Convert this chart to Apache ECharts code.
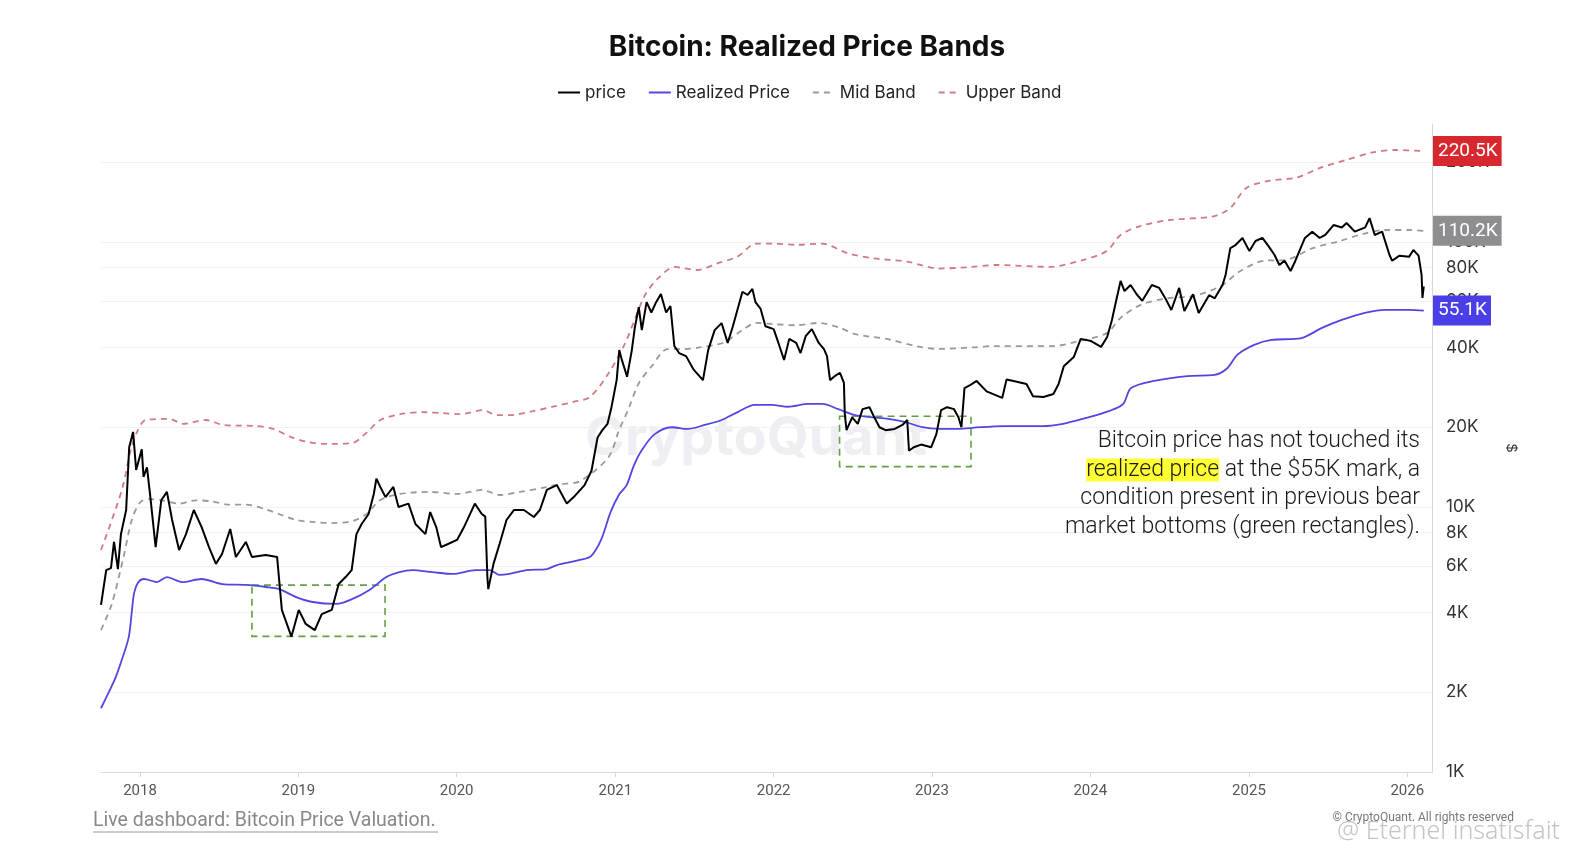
<!DOCTYPE html>
<html>
<head>
<meta charset="utf-8">
<title>Bitcoin: Realized Price Bands</title>
<script src="https://cdn.jsdelivr.net/npm/echarts@6.0.0/dist/echarts.min.js"></script>
<style>
	html, body { margin: 0; padding: 0; background: #fff; }
	#chart { width: 1578px; height: 864px; }
</style>
</head>
<body>
<div id="chart"></div>
<script>
// daily BTC close (USD)
var price = [
	['2017-10-03', 4270], ['2017-10-15', 5780], ['2017-10-26', 5880], ['2017-11-02', 7380],
	['2017-11-11', 5830], ['2017-11-18', 7900], ['2017-11-30', 9740], ['2017-12-07', 16800],
	['2017-12-16', 19200], ['2017-12-23', 13800], ['2018-01-05', 16500], ['2018-01-09', 13000],
	['2018-01-17', 14100], ['2018-01-24', 11200], ['2018-02-06', 7060], ['2018-02-19', 10600],
	['2018-03-04', 11400], ['2018-03-16', 8930], ['2018-04-01', 6880], ['2018-04-17', 7900],
	['2018-05-05', 9740], ['2018-05-23', 8400], ['2018-06-09', 7060], ['2018-06-25', 6100],
	['2018-07-09', 6650], ['2018-07-28', 8260], ['2018-08-10', 6480], ['2018-09-02', 7380],
	['2018-09-16', 6480], ['2018-10-18', 6590], ['2018-11-13', 6480], ['2018-11-24', 4090],
	['2018-12-16', 3240], ['2019-01-02', 4090], ['2019-01-18', 3620], ['2019-02-08', 3430],
	['2019-02-24', 3940], ['2019-03-19', 4090], ['2019-04-04', 5120], ['2019-04-20', 5440],
	['2019-05-04', 5780], ['2019-05-15', 7900], ['2019-05-27', 8630], ['2019-06-12', 9410],
	['2019-06-24', 11200], ['2019-06-30', 12800], ['2019-07-09', 11900], ['2019-07-21', 10900],
	['2019-08-08', 11900], ['2019-08-20', 10000], ['2019-09-12', 10300], ['2019-09-28', 8630],
	['2019-10-21', 7900], ['2019-11-01', 9570], ['2019-11-15', 8400], ['2019-11-26', 7060],
	['2019-12-12', 7250], ['2020-01-02', 7510], ['2020-01-18', 8400], ['2020-02-12', 10300],
	['2020-02-28', 9410], ['2020-03-07', 9200], ['2020-03-12', 5400], ['2020-03-14', 4900],
	['2020-03-26', 6100], ['2020-04-09', 7250], ['2020-04-25', 8930], ['2020-05-12', 9740],
	['2020-06-04', 9740], ['2020-06-27', 9170], ['2020-07-11', 9740], ['2020-07-27', 11600],
	['2020-08-19', 12100], ['2020-09-11', 10300], ['2020-09-27', 10900], ['2020-10-22', 12100],
	['2020-11-07', 13700], ['2020-11-21', 18300], ['2020-12-02', 19500], ['2020-12-14', 20600],
	['2020-12-23', 23800], ['2021-01-04', 30100], ['2021-01-10', 39100], ['2021-01-16', 35900],
	['2021-01-28', 31000], ['2021-02-08', 39100], ['2021-02-15', 47700], ['2021-02-24', 56800],
	['2021-03-03', 46500], ['2021-03-14', 59300], ['2021-03-25', 54200], ['2021-04-05', 59300],
	['2021-04-16', 63600], ['2021-04-28', 54200], ['2021-05-08', 57300], ['2021-05-17', 40500],
	['2021-05-28', 38100], ['2021-06-13', 37100], ['2021-07-01', 32900], ['2021-07-22', 30100],
	['2021-08-03', 39100], ['2021-08-18', 46500], ['2021-09-03', 49400], ['2021-09-17', 41600],
	['2021-09-29', 48100], ['2021-10-10', 55900], ['2021-10-21', 64900], ['2021-11-02', 63100],
	['2021-11-13', 66500], ['2021-11-20', 59300], ['2021-12-02', 55900], ['2021-12-13', 48100],
	['2022-01-01', 46900], ['2022-01-12', 41600], ['2022-01-25', 35900], ['2022-02-06', 43100],
	['2022-02-22', 41600], ['2022-03-04', 38100], ['2022-03-16', 44200], ['2022-03-30', 46900],
	['2022-04-15', 41600], ['2022-04-27', 39400], ['2022-05-04', 37100], ['2022-05-11', 30100],
	['2022-05-22', 31200], ['2022-06-03', 32100], ['2022-06-12', 29400], ['2022-06-14', 22400],
	['2022-06-18', 19500], ['2022-07-01', 21800], ['2022-07-14', 20600], ['2022-07-25', 23400],
	['2022-08-10', 23800], ['2022-08-21', 21800], ['2022-09-02', 20000], ['2022-09-16', 19500],
	['2022-10-07', 19700], ['2022-10-25', 20400], ['2022-11-05', 21300], ['2022-11-09', 16300],
	['2022-11-20', 16800], ['2022-12-07', 17200], ['2022-12-30', 16800], ['2023-01-11', 18800],
	['2023-01-22', 23200], ['2023-02-05', 23800], ['2023-02-21', 23400], ['2023-03-03', 21800],
	['2023-03-10', 20000], ['2023-03-17', 28100], ['2023-03-31', 28900], ['2023-04-14', 29900],
	['2023-05-07', 27300], ['2023-06-12', 25800], ['2023-06-22', 30300], ['2023-07-08', 29900],
	['2023-08-07', 29100], ['2023-08-22', 26200], ['2023-09-15', 26000], ['2023-10-08', 26700],
	['2023-10-20', 29100], ['2023-11-01', 34000], ['2023-11-24', 36800], ['2023-12-10', 43100],
	['2024-01-03', 42300], ['2024-01-26', 40200], ['2024-02-09', 43800], ['2024-02-20', 50800],
	['2024-03-02', 61300], ['2024-03-11', 71300], ['2024-03-20', 65300], ['2024-04-03', 68800],
	['2024-04-17', 63500], ['2024-04-30', 60000], ['2024-05-22', 68800], ['2024-06-08', 67100],
	['2024-06-24', 60500], ['2024-07-06', 55400], ['2024-07-24', 67100], ['2024-08-05', 54900],
	['2024-08-25', 63500], ['2024-09-07', 54000], ['2024-10-01', 63000], ['2024-10-14', 61300],
	['2024-11-01', 68800], ['2024-11-08', 75100], ['2024-11-19', 94800], ['2024-12-01', 97400],
	['2024-12-17', 103600], ['2025-01-02', 92400], ['2025-01-16', 100900], ['2025-02-01', 103600],
	['2025-02-15', 96500], ['2025-03-01', 89300], ['2025-03-12', 81900], ['2025-03-24', 85000],
	['2025-04-07', 77700], ['2025-04-18', 85000], ['2025-05-10', 103600], ['2025-05-27', 109400],
	['2025-06-13', 103600], ['2025-06-26', 106300], ['2025-07-15', 115900], ['2025-08-03', 113500],
	['2025-08-14', 118000], ['2025-09-02', 109400], ['2025-09-26', 113500], ['2025-10-06', 123100],
	['2025-10-18', 106300], ['2025-11-04', 109400], ['2025-11-21', 89300], ['2025-11-27', 85000],
	['2025-12-14', 88800], ['2026-01-05', 87900], ['2026-01-15', 93300], ['2026-01-27', 88800],
	['2026-02-03', 75100], ['2026-02-05', 61500], ['2026-02-08', 68000]
];

var realized = [
	['2017-10-03', 1740], ['2017-10-19', 1970], ['2017-11-06', 2280], ['2017-11-20', 2650],
	['2017-12-06', 3230], ['2017-12-13', 4020], ['2017-12-18', 4700], ['2017-12-27', 5170],
	['2018-01-10', 5350], ['2018-02-09', 5210], ['2018-03-04', 5440], ['2018-04-08', 5210],
	['2018-05-23', 5350], ['2018-07-09', 5120], ['2018-09-02', 5080], ['2018-10-18', 4990],
	['2018-11-18', 4900], ['2018-12-27', 4570], ['2019-02-03', 4380], ['2019-03-30', 4310],
	['2019-05-06', 4500], ['2019-06-14', 4860], ['2019-07-23', 5440], ['2019-08-22', 5680],
	['2019-09-21', 5780], ['2019-11-06', 5680], ['2019-12-23', 5590], ['2020-02-14', 5780],
	['2020-03-17', 5780], ['2020-04-09', 5540], ['2020-05-02', 5590], ['2020-06-11', 5780],
	['2020-07-27', 5830], ['2020-08-19', 6040], ['2020-10-11', 6310], ['2020-11-06', 6530],
	['2020-11-29', 7510], ['2020-12-21', 9570], ['2021-01-09', 11100], ['2021-01-27', 12100],
	['2021-02-13', 14400], ['2021-03-03', 16400], ['2021-04-01', 18800], ['2021-05-11', 20000],
	['2021-06-17', 19700], ['2021-07-26', 20400], ['2021-09-03', 21300], ['2021-10-10', 22800],
	['2021-11-18', 24300], ['2021-12-28', 24300], ['2022-02-03', 23900], ['2022-03-22', 24500],
	['2022-04-23', 24500], ['2022-05-30', 23400], ['2022-07-08', 22200], ['2022-08-17', 21800],
	['2022-09-22', 21500], ['2022-11-01', 20900], ['2022-12-10', 20000], ['2023-01-16', 19700],
	['2023-02-24', 19700], ['2023-04-05', 19900], ['2023-06-15', 20200], ['2023-09-13', 20200],
	['2023-10-30', 20600], ['2023-12-15', 21500], ['2024-02-13', 23000], ['2024-03-17', 24500],
	['2024-04-04', 28100], ['2024-05-27', 29900], ['2024-08-12', 31200], ['2024-10-13', 31500],
	['2024-11-12', 33400], ['2024-12-05', 37500], ['2025-01-13', 40900], ['2025-02-22', 42700],
	['2025-05-02', 43400], ['2025-06-17', 47300], ['2025-08-03', 50800], ['2025-09-25', 54000],
	['2025-11-12', 55400], ['2026-01-05', 55400], ['2026-02-08', 55100]
];

var midBand = [
	['2017-10-03', 3430], ['2017-10-28', 4310], ['2017-11-24', 6480], ['2017-12-13', 8930],
	['2018-01-01', 10400], ['2018-01-21', 10700], ['2018-02-20', 10600], ['2018-04-01', 10300],
	['2018-05-09', 10600], ['2018-06-16', 10500], ['2018-07-25', 10200], ['2018-09-02', 10200],
	['2018-10-18', 9800], ['2018-11-18', 9400], ['2018-12-27', 8930], ['2019-02-03', 8780],
	['2019-03-21', 8700], ['2019-05-06', 8850], ['2019-06-07', 9400], ['2019-07-08', 10600],
	['2019-08-22', 11200], ['2019-10-31', 11400], ['2020-01-01', 11200], ['2020-03-01', 11600],
	['2020-04-09', 11100], ['2020-05-26', 11400], ['2020-07-27', 11900], ['2020-08-26', 12200],
	['2020-10-11', 12500], ['2020-12-16', 15400], ['2021-01-09', 19400], ['2021-02-01', 23600],
	['2021-02-24', 29300], ['2021-03-26', 34000], ['2021-05-01', 39400], ['2021-06-08', 39400],
	['2021-07-14', 40000], ['2021-09-07', 41700], ['2021-10-23', 46800], ['2021-11-22', 49500],
	['2022-01-01', 49000], ['2022-02-22', 48500], ['2022-04-15', 49500], ['2022-06-01', 47600],
	['2022-07-08', 44900], ['2022-09-24', 42900], ['2022-11-24', 40500], ['2023-01-16', 39500],
	['2023-04-03', 40000], ['2023-05-26', 40500], ['2023-10-08', 40500], ['2023-12-07', 42300],
	['2024-02-08', 45300], ['2024-03-11', 51700], ['2024-04-25', 57800], ['2024-06-26', 61300],
	['2024-08-26', 62500], ['2024-10-28', 68200], ['2024-12-12', 77700], ['2025-02-05', 85000],
	['2025-03-26', 85500], ['2025-05-28', 94800], ['2025-07-30', 100900], ['2025-09-20', 107200],
	['2025-11-12', 111000], ['2026-01-05', 111000], ['2026-02-08', 110200]
];

var upperBand = [
	['2017-10-03', 6880], ['2017-10-28', 8930], ['2017-11-22', 11900], ['2017-12-11', 16500],
	['2017-12-27', 19500], ['2018-01-14', 21300], ['2018-03-10', 21500], ['2018-04-10', 20600],
	['2018-06-02', 21300], ['2018-07-11', 20400], ['2018-09-26', 20200], ['2018-11-04', 19700],
	['2018-12-14', 18400], ['2019-01-22', 17600], ['2019-03-16', 17300], ['2019-05-08', 17500],
	['2019-06-09', 19200], ['2019-07-09', 21300], ['2019-08-24', 22400], ['2019-10-16', 22800],
	['2019-12-01', 22600], ['2020-01-09', 22400], ['2020-03-02', 23200], ['2020-04-03', 22200],
	['2020-05-03', 22200], ['2020-06-25', 23000], ['2020-08-10', 23900], ['2020-09-25', 24900],
	['2020-11-03', 26000], ['2020-12-16', 31900], ['2021-01-24', 41700], ['2021-03-10', 62900],
	['2021-04-10', 73000], ['2021-05-17', 80500], ['2021-07-08', 78400], ['2021-08-24', 83000],
	['2021-10-09', 88000], ['2021-11-22', 98600], ['2022-01-01', 98600], ['2022-02-22', 97600],
	['2022-04-22', 98600], ['2022-06-21', 90600], ['2022-08-21', 86700], ['2022-11-05', 84300],
	['2023-01-16', 79400], ['2023-04-03', 80500], ['2023-05-26', 81900], ['2023-09-30', 80600],
	['2023-12-15', 85500], ['2024-02-08', 92400], ['2024-03-11', 106300], ['2024-04-25', 114900],
	['2024-07-03', 121100], ['2024-10-11', 125000], ['2024-11-19', 134400], ['2024-12-26', 160000],
	['2025-02-19', 170500], ['2025-04-20', 174800], ['2025-06-13', 190000], ['2025-08-12', 203900],
	['2025-10-13', 217700], ['2025-12-05', 222400], ['2026-02-08', 220500]
];

var priceTicks = [1000, 2000, 4000, 6000, 8000, 10000, 20000, 40000, 60000, 80000, 100000, 200000];
// [from, to, low, high] of the green boxes
var bottomBoxes = [
	['2018-09-16', '2019-07-20', 3250, 5070],
	['2022-06-02', '2023-04-01', 14200, 22000]
];
var noteLines = [
	'Bitcoin price has not touched its',
	'{hl|realized price} at the $55K mark, a',
	'condition present in previous bear',
	'market bottoms (green rectangles).'
];

var xMin = echarts.time.parse('2017-10-03').getTime();
var xMax = echarts.time.parse('2026-02-27').getTime();
var yMin = 1000, yMax = 278800;

function kLabel(v) {
	return (v / 1000).toFixed(1) + 'K';
}

// badge at the right of the axis showing a series' last value
function lastBadge(data, bg) {
	return {
		silent: true,
		symbol: 'none',
		lineStyle: { color: 'rgba(0,0,0,0)', width: 1 },
		emphasis: { disabled: true },
		label: {
			show: true,
			position: 'end',
			distance: 1,
			formatter: function (p) { return kLabel(p.value); },
			color: '#fff',
			backgroundColor: bg,
			padding: [6, 4, 5, 5],
			fontSize: 19,
			fontFamily: 'Roboto'
		},
		data: [{ yAxis: data[data.length - 1][1] }]
	};
}

var boxData = bottomBoxes.map(function (b) {
	return [{ coord: [b[0], b[3]] }, { coord: [b[1], b[2]] }];
});

// the note, one right-aligned text per line
var noteText = noteLines.map(function (line, i) {
	return {
		type: 'text',
		right: 158,
		top: 430 + i * 28.5,
		z: 10,
		style: {
			text: line,
			fontFamily: 'Roboto',
			fontSize: 23,
			fontWeight: 300,
			fill: '#1a1a1a',
			rich: {
				hl: { backgroundColor: '#ffff33', fontFamily: 'Roboto', fontSize: 23, fontWeight: 300, fill: '#1a1a1a' }
			}
		}
	};
});

var chart = echarts.init(document.getElementById('chart'));
var logTicks = priceTicks.map(function (v) { return Math.log10(v); });

chart.setOption({
	animation: false,
	backgroundColor: '#fff',
	title: {
		text: 'Bitcoin: Realized Price Bands',
		left: 807,
		textAlign: 'center',
		top: 34,
		padding: 0,
		textStyle: { fontFamily: 'Inter', fontSize: 28, fontWeight: 'bold', color: '#111' }
	},
	legend: {
		left: 557,
		top: 84,
		padding: 0,
		itemWidth: 22,
		itemHeight: 12,
		itemGap: 22,
		itemStyle: { opacity: 0 },
		textStyle: { fontFamily: 'Inter', fontSize: 17, color: '#222' },
		data: ['price', 'Realized Price', 'Mid Band', 'Upper Band']
	},
	grid: { left: 101, right: 146, top: 124, bottom: 92 },
	xAxis: {
		type: 'time',
		min: xMin,
		max: xMax,
		splitNumber: 9,
		axisLine: { lineStyle: { color: '#d8d8d8' } },
		axisTick: { length: 5, lineStyle: { color: '#d8d8d8' } },
		axisLabel: {
			formatter: function (v) { return echarts.time.format(v, '{yyyy}', false); },
			color: '#555',
			fontFamily: 'Roboto',
			fontSize: 15,
			margin: 12
		},
		splitLine: { show: false }
	},
	yAxis: [{
		type: 'log',
		min: yMin,
		max: yMax,
		position: 'right',
		show: false
	}, {
		// same range in log10 units, only carries the tick labels and grid
		type: 'value',
		min: Math.log10(yMin),
		max: Math.log10(yMax),
		position: 'right',
		name: '$',
		nameLocation: 'middle',
		nameGap: 72,
		nameRotate: -90,
		nameTextStyle: { color: '#333', fontSize: 15 },
		axisLine: { show: true, lineStyle: { color: '#d8d8d8' } },
		axisTick: { show: false, customValues: logTicks },
		axisLabel: {
			customValues: logTicks,
			formatter: function (v) { return Math.round(Math.pow(10, v) / 1000) + 'K'; },
			color: '#333',
			fontFamily: 'Inter',
			fontSize: 17,
			margin: 14
		},
		splitLine: { show: true, lineStyle: { color: '#f1f1f1' } }
	}],
	graphic: [{
		type: 'text',
		left: 585,
		top: 412,
		z: 0,
		style: {
			text: 'CryptoQuant',
			fontFamily: 'Inter',
			fontSize: 54,
			fontWeight: 'bold',
			fill: 'rgba(185,185,205,0.24)'
		}
	}].concat(noteText, [{
		type: 'text',
		left: 93,
		top: 811,
		style: { text: 'Live dashboard: Bitcoin Price Valuation.', fontFamily: 'Roboto', fontSize: 19.5, fill: '#888' }
	}, {
		type: 'line',
		shape: { x1: 93, y1: 832, x2: 438, y2: 832 },
		style: { stroke: '#999', lineWidth: 1.2 }
	}, {
		type: 'text',
		right: 64,
		top: 812,
		style: { text: '\u00a9 CryptoQuant. All rights reserved', fontFamily: 'Roboto', fontSize: 12, fill: '#777' }
	}, {
		type: 'text',
		right: 18,
		top: 819,
		style: { text: '@ Eternel insatisfait', fontFamily: 'Noto Sans', fontSize: 25, fontWeight: 300, fill: '#c4c4c4' }
	}]),
	series: [{
		name: 'price',
		type: 'line',
		data: price,
		yAxisIndex: 0,
		symbol: 'none',
		z: 5,
		itemStyle: { color: '#000' },
		lineStyle: { color: '#000', width: 2 },
		markArea: {
			silent: true,
			itemStyle: { color: 'rgba(0,0,0,0)', borderColor: '#62a044', borderWidth: 1.6, borderType: [7, 5] },
			data: boxData
		}
	}, {
		name: 'Realized Price',
		type: 'line',
		data: realized,
		yAxisIndex: 0,
		symbol: 'none',
		smooth: 0.3,
		z: 4,
		itemStyle: { color: '#5246e0' },
		lineStyle: { color: '#5246e0', width: 1.8 },
		markLine: lastBadge(realized, '#4a3ee6')
	}, {
		name: 'Mid Band',
		type: 'line',
		data: midBand,
		yAxisIndex: 0,
		symbol: 'none',
		smooth: 0.3,
		z: 3,
		itemStyle: { color: '#9a9a9a' },
		lineStyle: { color: '#9a9a9a', width: 1.8, type: [6, 5] },
		markLine: lastBadge(midBand, '#8e8e92')
	}, {
		name: 'Upper Band',
		type: 'line',
		data: upperBand,
		yAxisIndex: 0,
		symbol: 'none',
		smooth: 0.3,
		z: 3,
		itemStyle: { color: '#d27a82' },
		lineStyle: { color: '#d27a82', width: 1.8, type: [6, 5] },
		markLine: lastBadge(upperBand, '#d8282f')
	}]
});
</script>
</body>
</html>
